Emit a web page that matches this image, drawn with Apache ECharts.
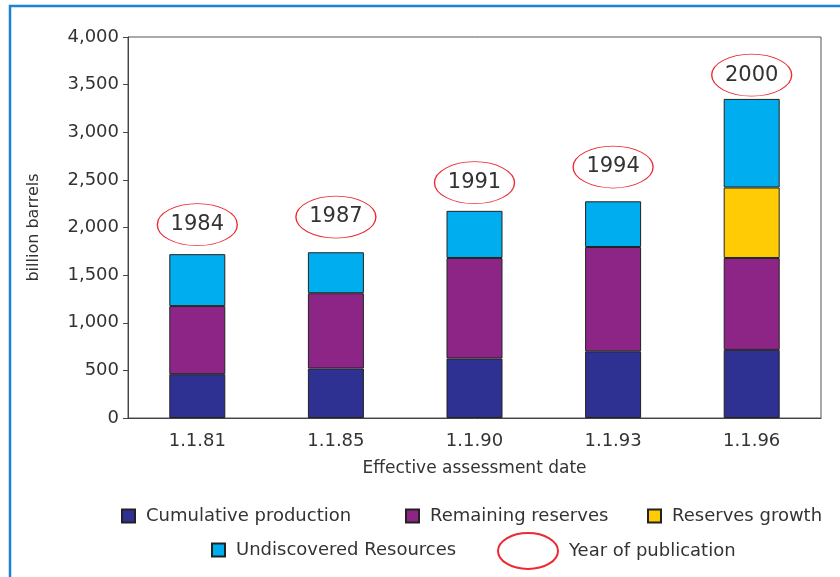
<!DOCTYPE html>
<html>
<head>
<meta charset="utf-8">
<script src="https://cdn.jsdelivr.net/npm/echarts@6/dist/echarts.min.js"></script>
<style>
    html, body { margin: 0; padding: 0; background: #fff; }
    #main { width: 840px; height: 577px; }
</style>
</head>
<body>
<div id="main"></div>
<script type="text/javascript">
    // assessment dates and stacked values (billion barrels)
    var dates = ['1.1.81', '1.1.85', '1.1.90', '1.1.93', '1.1.96'];
    var cumProduction = [460, 520, 625, 700, 715];
    var remainingReserves = [715, 790, 1055, 1095, 965];
    var reservesGrowth = [null, null, null, null, 740];
    var undiscovered = [545, 430, 495, 480, 930];
    // year of publication ellipses, placed above each bar
    var pubYears = ['1984', '1987', '1991', '1994', '2000'];
    var pubLevel = [2030, 2110, 2470, 2635, 3600];

    var font = 'DejaVu Sans';
    var txt = '#333';
    var ellipse = 'path://M0,30 A50,30 0 1,1 100,30 A50,30 0 1,1 0,30 Z';

    var myChart = echarts.init(document.getElementById('main'));

    function legendItem(name, left, top, w, h, icon) {
        return {
            data: [{ name: name, icon: icon }],
            left: left,
            top: top,
            itemWidth: w,
            itemHeight: h,
            selectedMode: false,
            textStyle: { fontFamily: font, fontSize: 18, color: txt, padding: [0, 0, 0, 6] }
        };
    }

    function barSeries(name, data, color) {
        return {
            name: name,
            type: 'bar',
            stack: 'total',
            barWidth: 56,
            data: data,
            itemStyle: { color: color, borderColor: '#222', borderWidth: 1 }
        };
    }

    var option = {
        backgroundColor: '#fff',
        animation: false,
        graphic: [{
            type: 'rect',
            shape: { x: 10, y: 6, width: 860, height: 620 },
            style: { fill: 'none', stroke: '#1a84d4', lineWidth: 2.5 }
        }],
        legend: [
            legendItem('Cumulative production', 116, 502, 13, 13, 'rect'),
            legendItem('Remaining reserves', 400, 502, 13, 13, 'rect'),
            legendItem('Reserves growth', 642, 502, 13, 13, 'rect'),
            legendItem('Undiscovered Resources', 206, 536, 13, 13, 'rect'),
            legendItem('Year of publication', 492, 527, 60, 36, ellipse)
        ],
        grid: {
            left: 128, right: 19, top: 37, bottom: 159,
            show: true, borderColor: '#555', borderWidth: 1
        },
        xAxis: {
            type: 'category',
            data: dates,
            name: 'Effective assessment date',
            nameLocation: 'middle',
            nameGap: 42,
            nameTextStyle: { fontFamily: font, fontSize: 17, color: txt },
            axisLine: { lineStyle: { color: '#444' } },
            axisTick: { length: 5, lineStyle: { color: '#444' } },
            axisLabel: { fontFamily: font, fontSize: 18, color: txt, margin: 14 }
        },
        yAxis: {
            type: 'value',
            min: 0,
            max: 4000,
            interval: 500,
            name: 'billion barrels',
            nameLocation: 'middle',
            nameGap: 86,
            nameTextStyle: { fontFamily: font, fontSize: 16, color: txt },
            splitLine: { show: false },
            axisLine: { show: true, lineStyle: { color: '#444' } },
            axisTick: { show: true, length: 5, lineStyle: { color: '#444' } },
            axisLabel: {
                fontFamily: font, fontSize: 18, color: txt, margin: 9,
                formatter: function (v) { return v.toLocaleString('en-US'); }
            }
        },
        series: [
            barSeries('Cumulative production', cumProduction, '#2e3192'),
            barSeries('Remaining reserves', remainingReserves, '#8d2587'),
            barSeries('Reserves growth', reservesGrowth, '#ffcb05'),
            barSeries('Undiscovered Resources', undiscovered, '#00adef'),
            {
                name: 'Year of publication',
                type: 'scatter',
                symbol: ellipse,
                symbolSize: [80, 42],
                data: pubLevel,
                itemStyle: { color: 'rgba(0,0,0,0)', borderColor: '#ec2a33', borderWidth: 1, opacity: 1 },
                label: {
                    show: true,
                    position: 'inside',
                    fontFamily: font,
                    fontSize: 21,
                    color: txt,
                    formatter: function (p) { return pubYears[p.dataIndex]; }
                },
                z: 5
            }
        ]
    };
    myChart.setOption(option);
</script>
</body>
</html>
